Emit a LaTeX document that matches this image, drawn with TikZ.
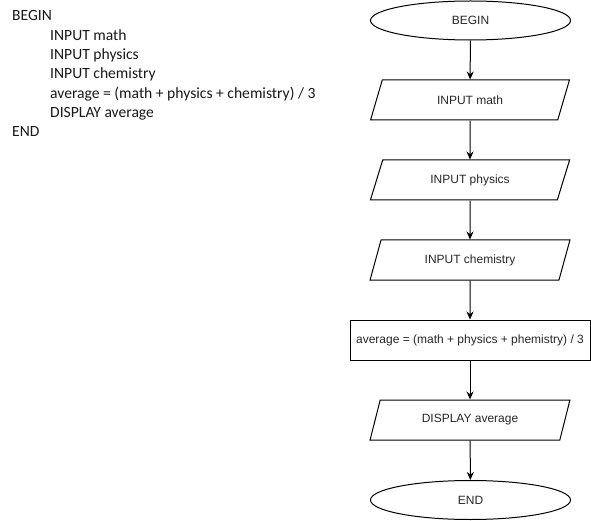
\documentclass[tikz,border=0pt]{standalone}
\usepackage{fontspec}
\setmainfont{Liberation Sans}
\newfontfamily\calfont{Carlito}
\usetikzlibrary{shapes.geometric,arrows.meta}
\tikzset{
  base/.style={draw=black,line width=1pt,inner sep=0pt,font=\fontsize{12pt}{14pt}\selectfont,text=black!85},
  term/.style={base,ellipse,minimum width=200pt,minimum height=39pt},
  io/.style={base,trapezium,trapezium left angle=63.43,trapezium right angle=116.57,trapezium stretches=true,minimum width=200pt,minimum height=40pt},
  proc/.style={base,rectangle,minimum width=240pt,minimum height=40pt},
  flow/.style={line width=1pt,-{Stealth[length=8pt,width=7pt]}},
  code/.style={anchor=base west,inner sep=0pt,font=\calfont\fontsize{15.6pt}{18pt}\selectfont,text=black!90}
}
\begin{document}
\begin{tikzpicture}[x=1pt,y=-1pt]
\useasboundingbox (0,0) rectangle (591,521);
% pseudocode
\node[code] (c1) at (12,21) {BEGIN};
\node[code] (c2) at (50,40.3) {INPUT math};
\node[code] (c3) at (50,59.6) {INPUT physics};
\node[code] (c4) at (50,78.9) {INPUT chemistry};
\node[code] (c5) at (50,98.2) {average = (math + physics + chemistry) / 3};
\node[code] (c6) at (50,117.5) {DISPLAY average};
\node[code] (c7) at (12,136.8) {END};
% flowchart
\node[term] (begin) at (470.5,20.5) {BEGIN};
\node[io] (in1) at (470,100) {INPUT math};
\node[io] (in2) at (470,180) {INPUT physics};
\node[io] (in3) at (470,260) {INPUT chemistry};
\node[proc] (avg) at (470,340) {average = (math + physics + phemistry) / 3};
\node[io] (disp) at (470,420) {DISPLAY average};
\node[term] (end) at (470.5,500) {END};
\draw[flow] (begin) -- (in1);
\draw[flow] (in1) -- (in2);
\draw[flow] (in2) -- (in3);
\draw[flow] (in3) -- (avg);
\draw[flow] (avg) -- (disp);
\draw[flow] (disp) -- (end);
\end{tikzpicture}
\end{document}
